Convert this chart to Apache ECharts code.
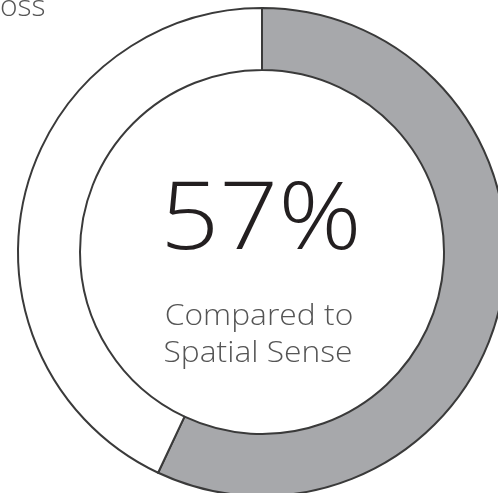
<!DOCTYPE html>
<html><head><meta charset="utf-8">
<script src="https://cdn.jsdelivr.net/npm/echarts@6/dist/echarts.min.js"></script>
<style>html,body{margin:0;padding:0;background:#fff}#c{width:498px;height:493px}</style>
</head><body><div id="c"></div>
<script>
const categories = ['Compared to Spatial Sense', 'Remainder'];
const values = [57, 43];
const centerValue = '57%';
const centerLabel = ['Compared to', 'Spatial Sense'];
const cornerText = 'oss';

const chart = echarts.init(document.getElementById('c'), null, {renderer: 'canvas'});
chart.setOption({
  animation: false,
  backgroundColor: '#fff',
  series: [{
    type: 'pie',
    radius: [182, 244],
    center: [262, 252],
    startAngle: 90,
    clockwise: true,
    silent: true,
    label: {show: false},
    labelLine: {show: false},
    itemStyle: {borderColor: '#3a3a3a', borderWidth: 2},
    data: categories.map((c, i) => ({
      name: c, value: values[i],
      itemStyle: {color: i === 0 ? '#a7a8ab' : '#ffffff'}
    }))
  }],
  graphic: [
    {type: 'text', x: 261, y: 222, scaleX: 1.1, style: {text: centerValue, font: '300 94px "Open Sans"', fill: '#231f20', textAlign: 'center', textVerticalAlign: 'middle'}},
    {type: 'text', x: 259, y: 316, scaleX: 1.06, style: {text: centerLabel[0], font: '300 30px "Open Sans"', fill: '#555', textAlign: 'center', textVerticalAlign: 'middle'}},
    {type: 'text', x: 258, y: 353, scaleX: 1.06, style: {text: centerLabel[1], font: '300 30px "Open Sans"', fill: '#555', textAlign: 'center', textVerticalAlign: 'middle'}},
    {type: 'text', left: 0, top: -8, style: {text: cornerText, font: '300 30px "Open Sans"', fill: '#555'}}
  ]
});
</script></body></html>
